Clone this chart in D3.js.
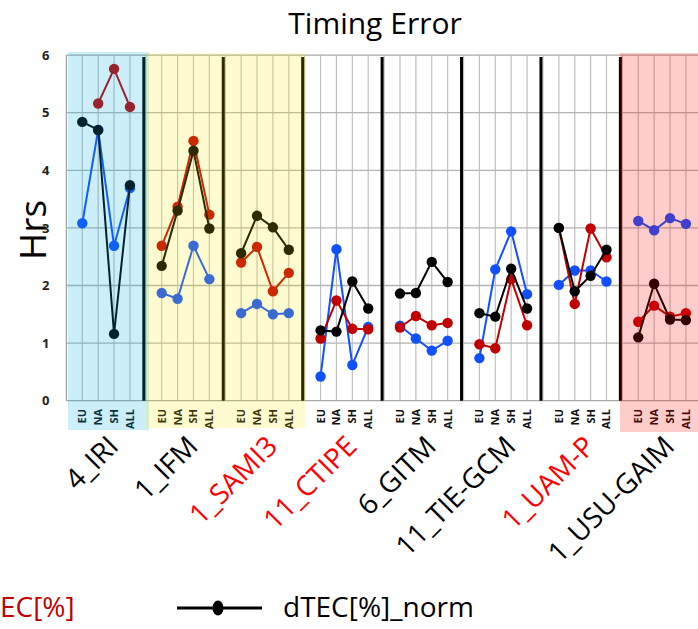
<!DOCTYPE html>
<html>
<head>
<meta charset="utf-8">
<script src="https://cdn.jsdelivr.net/npm/d3@7"></script>
<style>
  html, body { margin: 0; padding: 0; background: #fff; }
  svg { display: block; font-family: "Open Sans", "Noto Sans", sans-serif; }
</style>
</head>
<body>
<svg id="chart" width="698" height="629"></svg>
<script>
// Models (panels) and the regions shown inside each panel
const models = ["4_IRI", "1_IFM", "1_SAMI3", "11_CTIPE", "6_GITM", "11_TIE-GCM", "1_UAM-P", "1_USU-GAIM"];
const regions = ["EU", "NA", "SH", "ALL"];
const redLabelModels = ["1_SAMI3", "11_CTIPE", "1_UAM-P"];
const yTicks = [0, 1, 2, 3, 4, 5, 6];

// Timing error (hours) per model, in region order EU, NA, SH, ALL
const blueSeries = [
  [3.08, 4.70, 2.69, 3.69],
  [1.87, 1.77, 2.69, 2.11],
  [1.52, 1.68, 1.50, 1.52],
  [0.42, 2.63, 0.62, 1.28],
  [1.30, 1.08, 0.87, 1.04],
  [0.74, 2.28, 2.94, 1.85],
  [2.01, 2.26, 2.26, 2.07],
  [3.12, 2.96, 3.17, 3.07]
];
const dTecSeries = [
  [null, 5.16, 5.76, 5.10],
  [2.69, 3.37, 4.51, 3.23],
  [2.40, 2.67, 1.90, 2.22],
  [1.08, 1.74, 1.25, 1.24],
  [1.27, 1.47, 1.31, 1.35],
  [0.98, 0.91, 2.11, 1.31],
  [3.00, 1.68, 2.99, 2.49],
  [1.37, 1.65, 1.46, 1.52]
];
const dTecNormSeries = [
  [4.84, 4.70, 1.16, 3.74],
  [2.34, 3.30, 4.34, 2.99],
  [2.56, 3.21, 3.01, 2.62],
  [1.22, 1.20, 2.07, 1.60],
  [1.86, 1.87, 2.41, 2.06],
  [1.52, 1.46, 2.29, 1.60],
  [3.00, 1.90, 2.17, 2.62],
  [1.10, 2.03, 1.41, 1.40]
];

const svg = d3.select("#chart");
const slotsPerModel = regions.length + 1;          // 4 regions + one spacer slot
const nSlots = models.length * slotsPerModel;

const x = d3.scaleLinear().domain([0, nSlots]).range([66.4, 701.8]);
const y = d3.scaleLinear().domain([0, 6]).range([400.7, 55.1]);
const slot = (m, r) => m * slotsPerModel + r + 1;
const panelCenter = m => x(m * slotsPerModel + (regions.length + 1) / 2);

// Title
svg.append("text")
  .attr("x", 375).attr("y", 34)
  .attr("text-anchor", "middle")
  .attr("font-size", 30)
  .text("Timing Error");

// Y axis title
svg.append("text")
  .attr("transform", "translate(46,230) rotate(-90)")
  .attr("text-anchor", "middle")
  .attr("font-size", 37)
  .text("Hrs");

// Grid
const grid = svg.append("g");
grid.selectAll("line.v")
  .data(d3.range(1, nSlots))
  .join("line")
  .attr("x1", d => x(d)).attr("x2", d => x(d))
  .attr("y1", y(6)).attr("y2", y(0))
  .attr("stroke", "#c0c0c0").attr("stroke-width", 1.2);
grid.selectAll("line.h")
  .data(yTicks)
  .join("line")
  .attr("x1", x(0)).attr("x2", x(nSlots))
  .attr("y1", d => y(d)).attr("y2", d => y(d))
  .attr("stroke", d => (d === 0 || d === 6) ? "#a8a8a8" : "#b4b4b4")
  .attr("stroke-width", 1.3);
grid.append("line")
  .attr("x1", x(0)).attr("x2", x(0))
  .attr("y1", y(6)).attr("y2", y(0))
  .attr("stroke", "#a0a0a0").attr("stroke-width", 1.3);

// Y tick labels
const yAxis = svg.append("g")
  .attr("transform", `translate(${x(0) - 14},0)`)
  .call(d3.axisLeft(y).tickValues(yTicks).tickSize(0).tickFormat(d3.format("d")));
yAxis.select(".domain").remove();
yAxis.selectAll("text")
  .attr("font-family", "'Open Sans', sans-serif")
  .attr("font-weight", "bold")
  .attr("font-size", 13)
  .attr("fill", "#222");

// Panel dividers
svg.selectAll("line.divider")
  .data(d3.range(1, models.length))
  .join("line")
  .attr("x1", d => x(d * slotsPerModel) - 2).attr("x2", d => x(d * slotsPerModel) - 2)
  .attr("y1", y(6) + 2).attr("y2", y(0))
  .attr("stroke", "#000").attr("stroke-width", 3);

// Region labels under each panel
const catTicks = [];
models.forEach((m, mi) => regions.forEach((r, ri) => catTicks.push({ slot: slot(mi, ri), label: r })));
svg.append("g").selectAll("text")
  .data(catTicks)
  .join("text")
  .attr("transform", d => `translate(${x(d.slot)},409) rotate(-90)`)
  .attr("text-anchor", "end")
  .attr("dy", "0.36em")
  .attr("font-size", 11)
  .attr("font-weight", "bold")
  .attr("fill", "#111")
  .text(d => d.label);

// Model labels
svg.append("g").selectAll("text")
  .data(models)
  .join("text")
  .attr("transform", (d, i) => `translate(${panelCenter(i) + 14},448) rotate(-45)`)
  .attr("text-anchor", "end")
  .attr("font-size", 28)
  .attr("fill", d => redLabelModels.includes(d) ? "#ff0000" : "#000")
  .text(d => d);

// Series lines and markers
const seriesDefs = [
  { values: blueSeries, color: "#1050ff" },
  { values: dTecSeries, color: "#c00000" },
  { values: dTecNormSeries, color: "#000000" }
];
const line = d3.line()
  .defined(d => d.value !== null)
  .x(d => x(d.slot))
  .y(d => y(d.value));

seriesDefs.forEach(s => {
  const g = svg.append("g");
  s.values.forEach((vals, mi) => {
    const pts = vals.map((v, ri) => ({ slot: slot(mi, ri), value: v }));
    g.append("path")
      .datum(pts)
      .attr("d", line)
      .attr("fill", "none")
      .attr("stroke", s.color)
      .attr("stroke-width", 2);
    g.selectAll(null)
      .data(pts.filter(p => p.value !== null))
      .join("circle")
      .attr("cx", d => x(d.slot))
      .attr("cy", d => y(d.value))
      .attr("r", 5.2)
      .attr("fill", s.color);
  });
});

// Translucent highlight bands over selected panels
const bands = [
  { x0: 68, x1: 149, y0: 52, y1: 430, fill: "rgba(0,170,220,0.2)" },
  { x0: 146, x1: 305, y0: 53, y1: 428, fill: "rgba(255,235,0,0.18)" },
  { x0: 620, x1: 698, y0: 53, y1: 432, fill: "rgba(255,0,0,0.2)" }
];
svg.append("g").selectAll("rect")
  .data(bands)
  .join("rect")
  .attr("x", d => d.x0).attr("y", d => d.y0)
  .attr("width", d => d.x1 - d.x0).attr("height", d => d.y1 - d.y0)
  .attr("fill", d => d.fill);

// Legend
const legend = svg.append("g");
legend.append("text")
  .attr("x", 0).attr("y", 617)
  .attr("font-size", 28)
  .attr("fill", "#c00000")
  .text("EC[%]");
legend.append("line")
  .attr("x1", 177).attr("x2", 262)
  .attr("y1", 608).attr("y2", 608)
  .attr("stroke", "#000").attr("stroke-width", 3);
legend.append("ellipse")
  .attr("cx", 218).attr("cy", 608)
  .attr("rx", 5.5).attr("ry", 7.5)
  .attr("fill", "#000");
legend.append("text")
  .attr("x", 283).attr("y", 617)
  .attr("font-size", 28)
  .attr("fill", "#000")
  .text("dTEC[%]_norm");
</script>
</body>
</html>
